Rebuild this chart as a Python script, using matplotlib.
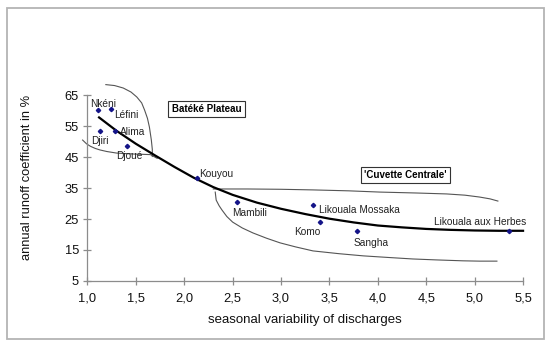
import matplotlib.pyplot as plt
from matplotlib.patches import Rectangle

plt.rcParams['font.family'] = ['Liberation Sans', 'DejaVu Sans']

# rivers
rivers = ['Nkéni', 'Léfini', 'Djiri', 'Alima', 'Djoué', 'Kouyou', 'Mambili',
          'Likouala Mossaka', 'Komo', 'Sangha', 'Likouala aux Herbes']
variability = [1.11, 1.24, 1.13, 1.28, 1.41, 2.13, 2.54, 3.33, 3.40, 3.78, 5.35]
runoff = [60.2, 60.4, 53.4, 53.4, 48.6, 38.2, 30.5, 29.5, 24.0, 21.1, 21.1]

# label anchor (left edge, middle)
label_x = [1.03, 1.28, 1.04, 1.34, 1.30, 2.15, 2.49, 3.39, 3.14, 3.75, 4.58]
label_y = [62.1, 58.5, 50.2, 53.1, 45.3, 39.5, 27.0, 28.0, 20.8, 17.3, 24.0]

# fitted trend curve
fit_x = [1.12, 1.3, 1.5, 1.7, 1.9, 2.1, 2.3, 2.5, 2.75, 3.0, 3.25, 3.5, 3.75,
         4.0, 4.25, 4.5, 4.75, 5.0, 5.25, 5.5]
fit_y = [57.8, 53.5, 49.3, 45.5, 41.8, 38.3, 35.3, 32.8, 30.3, 28.3, 26.6, 25.1,
         23.9, 22.9, 22.3, 21.8, 21.5, 21.3, 21.2, 21.2]

# envelope of the Batéké Plateau group
bat_outer_x = [1.19, 1.28, 1.37, 1.45, 1.51, 1.56, 1.59, 1.62, 1.64, 1.66, 1.67, 1.67]
bat_outer_y = [68.4, 68.1, 67.3, 66.0, 64.4, 62.5, 60.2, 57.5, 54.7, 50.5, 47.5, 45.2]
bat_lower_x = [0.95, 0.99, 1.03, 1.08, 1.13, 1.20, 1.30, 1.47, 1.65, 1.72]
bat_lower_y = [50.5, 49.3, 48.5, 47.8, 47.3, 46.8, 46.3, 46.0, 45.8, 44.6]

# envelope of the 'Cuvette Centrale' group
cuv_upper_x = [2.30, 2.65, 3.00, 3.33, 3.70, 4.02, 4.40, 4.71, 4.90, 5.05, 5.16, 5.24]
cuv_upper_y = [34.7, 34.7, 34.6, 34.4, 34.1, 33.7, 33.4, 33.1, 32.7, 32.1, 31.5, 30.8]
cuv_lower_x = [2.32, 2.33, 2.36, 2.39, 2.44, 2.50, 2.60, 2.71, 2.85, 2.99, 3.15, 3.33,
               3.60, 3.85, 4.10, 4.36, 4.60, 4.88, 5.05, 5.23]
cuv_lower_y = [33.7, 31.1, 29.3, 27.9, 25.8, 24.0, 22.1, 20.5, 18.8, 17.3, 16.0, 14.7,
               13.8, 13.1, 12.6, 12.1, 11.8, 11.5, 11.4, 11.4]

x_ticks = [1.0, 1.5, 2.0, 2.5, 3.0, 3.5, 4.0, 4.5, 5.0, 5.5]
y_ticks = [5, 15, 25, 35, 45, 55, 65]

fig = plt.figure(figsize=(5.5, 3.46), dpi=100)
ax = fig.add_axes([0.159, 0.188, 0.792, 0.537])

# grey frame around the whole chart
fig.patches.append(Rectangle((7 / 550, 1 - 339 / 346), 537 / 550, 331 / 346,
                             transform=fig.transFigure, fill=False,
                             edgecolor='#b4b4b4', linewidth=1.3))

env_style = dict(color='#555555', linewidth=0.8, clip_on=False)
ax.plot(bat_outer_x, bat_outer_y, **env_style)
ax.plot(bat_lower_x, bat_lower_y, **env_style)
ax.plot(cuv_upper_x, cuv_upper_y, **env_style)
ax.plot(cuv_lower_x, cuv_lower_y, **env_style)

ax.plot(fit_x, fit_y, color='black', linewidth=1.6, clip_on=False)
ax.plot(variability, runoff, linestyle='none', marker='D', markersize=2.2,
        color='#141488', clip_on=False)

for name, lx, ly in zip(rivers, label_x, label_y):
    ax.text(lx, ly, name, fontsize=7.3, ha='left', va='center', color='#222222')

box = dict(boxstyle='square,pad=0.35', facecolor='white', edgecolor='#333333', linewidth=0.8)
ax.text(1.87, 60.5, 'Batéké Plateau', fontsize=7, fontweight='bold', ha='left',
        va='center', bbox=box)
ax.text(3.86, 39.2, "'Cuvette Centrale'", fontsize=7, fontweight='bold', ha='left',
        va='center', bbox=box)

ax.set_xlim(1.0, 5.5)
ax.set_ylim(5, 65)
ax.set_xticks(x_ticks)
ax.set_xticklabels([f'{t:.1f}'.replace('.', ',') for t in x_ticks])
ax.set_yticks(y_ticks)

for s in ['top', 'right']:
    ax.spines[s].set_visible(False)
for s in ['left', 'bottom']:
    ax.spines[s].set_color('#8c8c8c')
    ax.spines[s].set_linewidth(0.9)
ax.tick_params(direction='inout', length=6, width=0.9, color='#8c8c8c',
               labelsize=9.3, labelcolor='#111111')
ax.tick_params(axis='x', pad=5)
ax.tick_params(axis='y', pad=3)

ax.set_xlabel('seasonal variability of discharges', fontsize=9.5, labelpad=7,
              color='#111111')
ax.set_ylabel('annual runoff coefficient in %', fontsize=9.3, color='#111111')
ax.yaxis.set_label_coords(-0.125, 0.555)

fig.savefig('out.png', dpi=100)
